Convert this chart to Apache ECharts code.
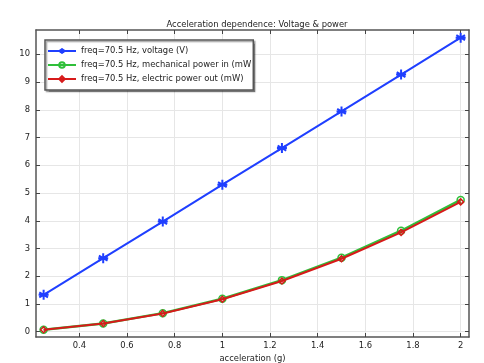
<!DOCTYPE html>
<html><head><meta charset="utf-8">
<script src="https://cdn.jsdelivr.net/npm/echarts@6/dist/echarts.min.js"></script>
<style>html,body{margin:0;padding:0;background:#fff}#c{width:484px;height:363px}</style>
</head><body><div id="c"></div>
<script>
const acceleration = [0.25, 0.5, 0.75, 1.0, 1.25, 1.5, 1.75, 2.0];
const voltage = [1.33, 2.65, 3.97, 5.30, 6.62, 7.94, 9.27, 10.60];
const mechPower = [0.075, 0.30, 0.67, 1.19, 1.86, 2.67, 3.64, 4.75];
const elecPower = [0.073, 0.295, 0.66, 1.17, 1.83, 2.63, 3.58, 4.68];
const xTicks = [0.4, 0.6, 0.8, 1.0, 1.2, 1.4, 1.6, 1.8, 2.0];
const yTicks = [0, 1, 2, 3, 4, 5, 6, 7, 8, 9, 10];
const seriesNames = ['freq=70.5 Hz, voltage (V)', 'freq=70.5 Hz, mechanical power in (mW)', 'freq=70.5 Hz, electric power out (mW)'];
const titleText = 'Acceleration dependence: Voltage & power';
const xName = 'acceleration (g)';

const FONT = 'DejaVu Sans';
const FS = 8.4;
const X_MIN = 0.218, X_MAX = 2.035, Y_MIN = -0.19, Y_MAX = 10.876;
const gridLine = {show: true, lineStyle: {color: '#e6e6e6', width: 1}};
const axisLine = {show: true, onZero: false, lineStyle: {color: '#555', width: 1.5}};
const tick = (vals) => ({show: true, inside: true, length: 4, customValues: vals, lineStyle: {color: '#444', width: 1}});
const asterisk = 'path://M10,0L10,20M1.34,5L18.66,15M1.34,15L18.66,5M0,10L20,10';
const zip = (a, b) => a.map((v, i) => [v, b[i]]);

const chart = echarts.init(document.getElementById('c'), null, {renderer: 'canvas'});
chart.setOption({
  animation: false,
  backgroundColor: '#fff',
  title: {text: titleText, left: 252, top: 16, textAlign: 'center',
    textStyle: {fontFamily: FONT, fontSize: FS, fontWeight: 'normal', color: '#222'}},
  grid: {left: 36, right: 15, top: 30, bottom: 26, outerBoundsMode: 'none', containLabel: false},
  legend: {
    orient: 'vertical', left: 45, top: 40, itemGap: 6,
    padding: [7, 2, 7, 2],
    backgroundColor: '#fff', borderColor: '#555', borderWidth: 1.5,
    shadowColor: 'rgba(0,0,0,0.35)', shadowBlur: 1, shadowOffsetX: 1.5, shadowOffsetY: 1.5,
    itemWidth: 28, itemHeight: 7,
    textStyle: {fontFamily: FONT, fontSize: FS, color: '#222', width: 174, overflow: 'truncate', ellipsis: ''},
    data: seriesNames
  },
  xAxis: [
    {type: 'value', min: X_MIN, max: X_MAX, name: xName, nameLocation: 'middle', nameGap: 15,
     nameTextStyle: {fontFamily: FONT, fontSize: FS, color: '#222'},
     axisLine: axisLine, axisTick: tick(xTicks),
     axisLabel: {customValues: xTicks, fontFamily: FONT, fontSize: FS, color: '#222', margin: 5,
       formatter: v => String(parseFloat(v.toFixed(1)))},
     splitLine: gridLine},
    {type: 'value', position: 'top', min: X_MIN, max: X_MAX, axisLine: axisLine,
     axisTick: tick(xTicks), axisLabel: {show: false}, splitLine: {show: false}}
  ],
  yAxis: [
    {type: 'value', min: Y_MIN, max: Y_MAX, axisLine: axisLine, axisTick: tick(yTicks),
     axisLabel: {customValues: yTicks, fontFamily: FONT, fontSize: FS, color: '#222', margin: 6},
     splitLine: gridLine},
    {type: 'value', position: 'right', min: Y_MIN, max: Y_MAX, axisLine: axisLine,
     axisTick: tick(yTicks), axisLabel: {show: false}, splitLine: {show: false}}
  ],
  series: [
    {name: seriesNames[0], type: 'line', data: zip(acceleration, voltage), color: '#1f3fff',
     lineStyle: {width: 2, color: '#1f3fff'}, symbol: asterisk, symbolSize: 10, showAllSymbol: true,
     itemStyle: {color: '#1f3fff', borderColor: '#1f3fff', borderWidth: 2}, z: 3},
    {name: seriesNames[1], type: 'line', data: zip(acceleration, mechPower), color: '#2fbf3a',
     lineStyle: {width: 2.5, color: '#2fbf3a'}, symbol: 'circle', symbolSize: 7,
     itemStyle: {color: 'rgba(0,0,0,0)', borderColor: '#2fbf3a', borderWidth: 1.5}, z: 2},
    {name: seriesNames[2], type: 'line', data: zip(acceleration, elecPower), color: '#d71a1a',
     lineStyle: {width: 2, color: '#d71a1a'}, symbol: 'diamond', symbolSize: 6,
     itemStyle: {color: 'rgba(0,0,0,0)', borderColor: '#d71a1a', borderWidth: 1.5}, z: 4}
  ]
});
</script></body></html>
